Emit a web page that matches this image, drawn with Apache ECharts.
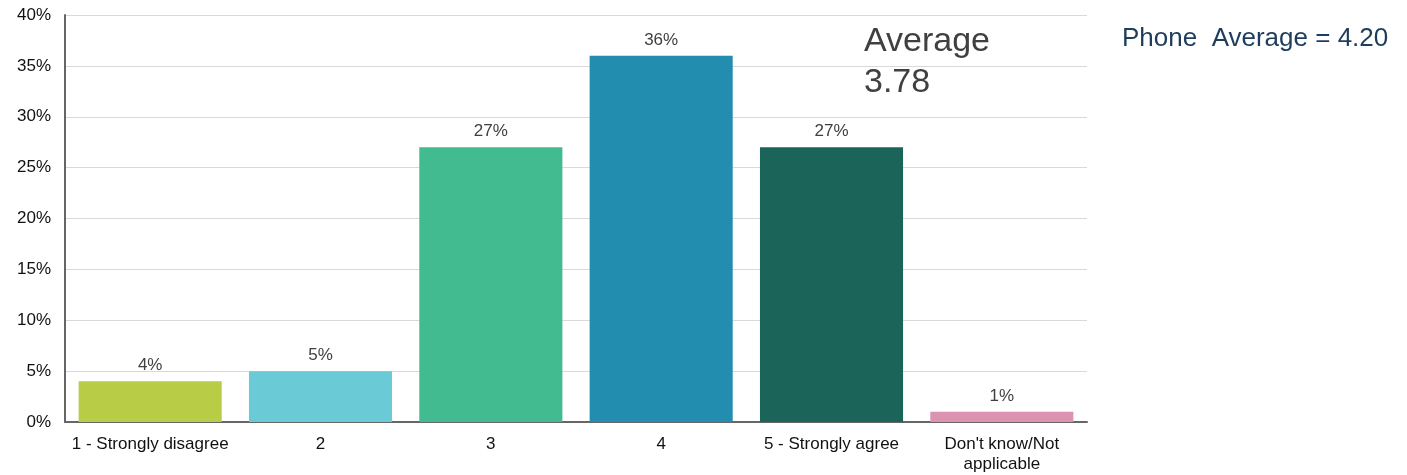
<!DOCTYPE html>
<html>
<head>
<meta charset="utf-8">
<script src="https://cdn.jsdelivr.net/npm/echarts@6/dist/echarts.min.js"></script>
<style>
  html, body { margin: 0; padding: 0; background: #fff; }
  #chart { width: 1407px; height: 475px; }
</style>
</head>
<body>
<div id="chart"></div>
<script>
var categories = ['1 - Strongly disagree', '2', '3', '4', '5 - Strongly agree', "Don't know/Not\napplicable"];
var values = [4, 5, 27, 36, 27, 1];
var barColors = ['#b8cc45', '#6acad6', '#41bb8f', '#228daf', '#1b6459', '#dc93b1'];
var avgText = 'Average\n3.78';
var phoneText = 'Phone  Average = 4.20';

var myChart = echarts.init(document.getElementById('chart'));

var option = {
  backgroundColor: '#fff',
  animation: false,
  textStyle: { fontFamily: 'Liberation Sans, Arial, sans-serif' },
  grid: {
    left: 65,
    right: 320,
    top: 15,
    bottom: 53,
    containLabel: false,
    outerBoundsMode: 'none'
  },
  graphic: [
    {
      type: 'text',
      left: 864,
      top: 21,
      style: {
        text: avgText,
        fontSize: 34,
        lineHeight: 41,
        fill: '#404040',
        fontFamily: 'Liberation Sans, Arial, sans-serif'
      }
    },
    {
      type: 'text',
      left: 1122,
      top: 26,
      style: {
        text: phoneText,
        fontSize: 26,
        fill: '#1e3d5c',
        fontFamily: 'Liberation Sans, Arial, sans-serif'
      }
    }
  ],
  xAxis: {
    type: 'category',
    data: categories,
    axisTick: { show: false },
    axisLine: { lineStyle: { color: '#666', width: 2 } },
    axisLabel: {
      color: '#111',
      fontSize: 17,
      margin: 12,
      lineHeight: 20,
      interval: 0
    }
  },
  yAxis: {
    type: 'value',
    min: 0,
    max: 40,
    interval: 5,
    axisLine: { show: true, lineStyle: { color: '#666', width: 2 } },
    axisTick: { show: false },
    axisLabel: {
      formatter: '{value}%',
      color: '#111',
      fontSize: 17,
      margin: 14
    },
    splitLine: { lineStyle: { color: '#d9d9d9', width: 1 } }
  },
  series: [
    {
      type: 'bar',
      data: values.map(function (v, i) {
        return { value: v, itemStyle: { color: barColors[i] } };
      }),
      barCategoryGap: '16%',
      label: {
        show: true,
        position: 'top',
        distance: 7,
        formatter: '{c}%',
        color: '#404040',
        fontSize: 17
      }
    }
  ]
};

myChart.setOption(option);
</script>
</body>
</html>
